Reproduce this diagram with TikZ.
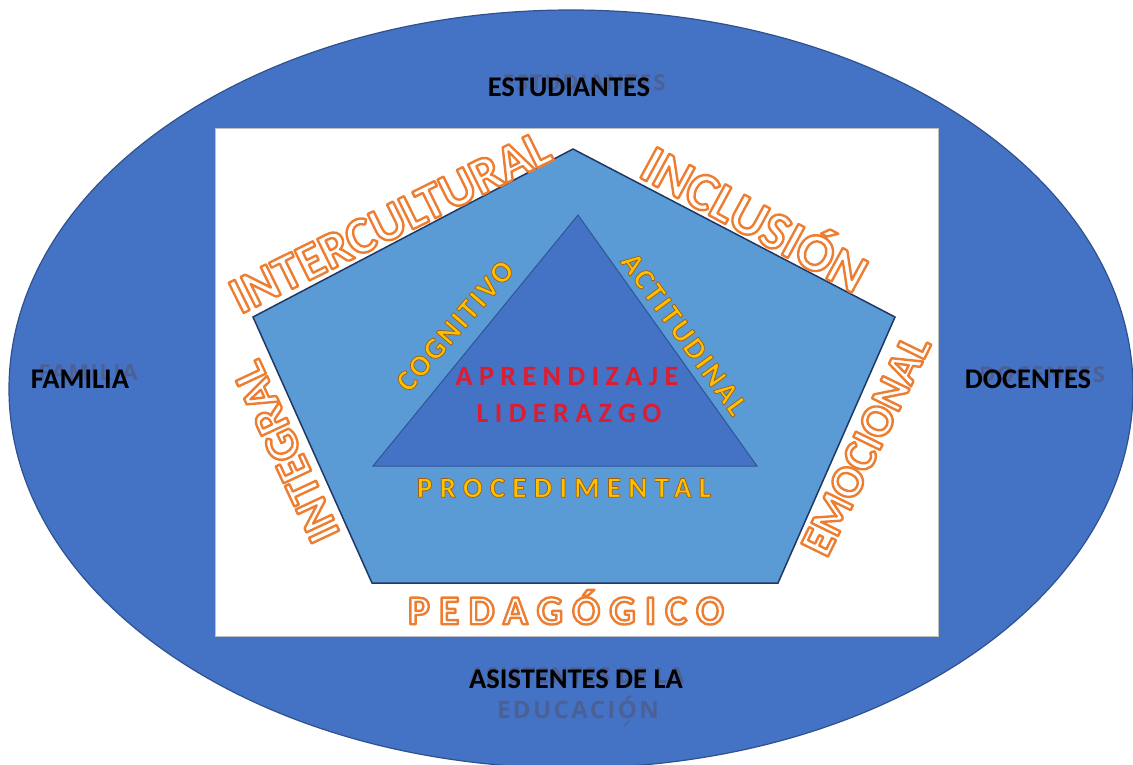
\documentclass[tikz,border=0pt]{standalone}
\usepackage{fontspec}
\setmainfont{Carlito}
\newfontfamily\spacedA[LetterSpace=23]{Carlito}
\newfontfamily\spacedB[LetterSpace=8]{Carlito}
\newfontfamily\spacedP[LetterSpace=25]{Carlito}
\newfontfamily\spacedC[LetterSpace=23]{Carlito}
\newfontfamily\ghostf[LetterSpace=7]{Open Sans}
\newfontfamily\ghostg[LetterSpace=10]{Open Sans}
\definecolor{ellblue}{HTML}{4472C4}
\definecolor{ellline}{HTML}{2F528F}
\definecolor{pentblue}{HTML}{5B9BD5}
\definecolor{pentline}{HTML}{203864}
\definecolor{triblue}{HTML}{4472C4}
\definecolor{triline}{HTML}{2F5597}
\definecolor{ghostc}{RGB}{78,94,142}
\definecolor{goldc}{HTML}{FFC000}
\definecolor{redc}{RGB}{222,28,48}
\newcommand{\orangeout}[1]{{\color{white}\special{pdf:literal direct 0.93 0.49 0.19 RG 2.4 w 1 j 2 Tr}#1\special{pdf:literal direct 0 Tr}}}
\newcommand{\goldout}[1]{{\color{goldc}\special{pdf:literal direct 0.62 0.36 0.08 RG 0.7 w 1 j 2 Tr}#1\special{pdf:literal direct 0 Tr}}}
\tikzset{
  lbl/.style={inner sep=0pt, text depth=0pt, text height=#1pt},
  blacklbl/.style={lbl=18.3, font=\fontsize{28.5}{30}\selectfont\bfseries, text=black},
  ghostlbl/.style={lbl=15.7, font=\fontsize{22}{24}\selectfont\ghostf\bfseries, text=ghostc, opacity=0.85},
  centerlbl/.style={lbl=18, font=\fontsize{28}{30}\selectfont\spacedA\bfseries, text=redc},
}
\begin{document}
\begin{tikzpicture}[x=1pt,y=-1pt]
\useasboundingbox (0,0) rectangle (1133,764);
\fill[white] (0,0) rectangle (1133,764);
% outer ellipse
\path[fill=ellblue, draw=ellline, line width=1.2pt] (571,389) ellipse [x radius=562, y radius=379];
% white panel
\path[fill=white, draw=black!25, line width=0.8pt] (215,128) rectangle (938,636);
% pentagon
\path[fill=pentblue, draw=pentline, line width=1.5pt]
  (573,149) -- (895,317) -- (778,583) -- (372,583) -- (253,317) -- cycle;
% triangle
\path[fill=triblue, draw=triline, line width=1pt]
  (578,215) -- (757,466) -- (373,466) -- cycle;

% ghost texts
\node[ghostlbl] (gEst) at (584,83) {ESTUDIANTES};
\node[ghostlbl] (gFam) at (88,373) {FAMILIA};
\node[ghostlbl] (gDoc) at (1042,375) {DOCENTES};
\node[ghostlbl] (gAsi) at (577,676) {ASISTENTES DE LA};
\node[lbl=17.1, font=\fontsize{24}{26}\selectfont\ghostg\bfseries, text=ghostc, opacity=0.85] (gEdu) at (578,710) {EDUCACIÓN};
\draw[ghostc, line width=1.2pt, opacity=0.85] (624,726) -- (629,721);

% black texts
\node[blacklbl] (est) at (569,87) {ESTUDIANTES};
\node[blacklbl] (fam) at (80,379) {FAMILIA};
\node[blacklbl] (doc) at (1028,379) {DOCENTES};
\node[blacklbl] (asi) at (576,679) {ASISTENTES DE LA};

% outlined orange texts
\node[lbl=33.5, font=\fontsize{52}{52}\selectfont\bfseries, rotate=26.3] (intc) at (390,222) {\orangeout{INTERCULTURAL}};
\node[lbl=34.5, font=\fontsize{54}{54}\selectfont\bfseries, rotate=-28.5] (incl) at (754,220) {\orangeout{INCLUSIÓN}};
\node[lbl=29.5, font=\fontsize{46}{46}\selectfont\bfseries, rotate=64] (emo) at (866,445) {\orangeout{EMOCIONAL}};
\node[lbl=30, font=\fontsize{47}{47}\selectfont\bfseries, rotate=115] (integ) at (286,452) {\orangeout{INTEGRAL}};
\node[lbl=26.5, font=\fontsize{41}{41}\selectfont\spacedC\bfseries] (ped) at (566,611) {\orangeout{PEDAGÓGICO}};

% inner texts
\node[lbl=19.2, font=\fontsize{30}{30}\selectfont\spacedB\bfseries, rotate=49] (cog) at (455,326) {\goldout{COGNITIVO}};
\node[lbl=19.2, font=\fontsize{30}{30}\selectfont\spacedB\bfseries, rotate=-54] (act) at (684,334) {\goldout{ACTITUDINAL}};
\node[lbl=18.6, font=\fontsize{29}{30}\selectfont\spacedP\bfseries] (proc) at (564,488) {\goldout{PROCEDIMENTAL}};
\node[centerlbl] (apr) at (567,376) {APRENDIZAJE};
\node[centerlbl] (lid) at (569,413) {LIDERAZGO};
\end{tikzpicture}
\end{document}
